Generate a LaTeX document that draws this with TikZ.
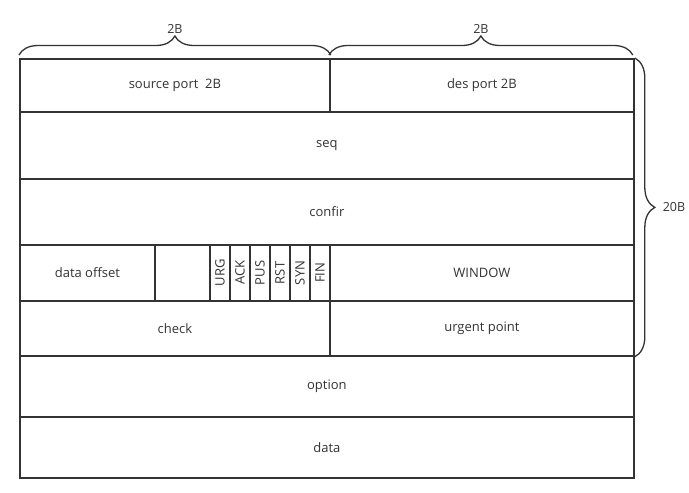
\documentclass[tikz,border=0pt]{standalone}
\usepackage{fontspec}
\setmainfont{Open Sans}
\usepackage{graphicx}
\usetikzlibrary{decorations.pathreplacing}
\definecolor{linegray}{HTML}{333333}

\begin{document}
\begin{tikzpicture}[x=1pt,y=-1pt,
    cell/.style={draw=linegray, line width=1.8pt, anchor=north west, inner sep=0pt,
        text=linegray, font=\fontsize{13}{15}\selectfont},
    bracket/.style={draw=linegray, line width=1.3pt, decorate,
        decoration={brace, amplitude=#1}},
    lbl/.style={text=linegray, font=\fontsize{12.5}{14}\selectfont}]
    \useasboundingbox (0,0) rectangle (689,493);
    % rows
    \node[cell, minimum width=310pt, minimum height=53pt] (src) at (19,58) {source port~~2B};
    \node[cell, minimum width=304pt, minimum height=53pt] (dst) at (329,58) {des port 2B};
    \node[cell, minimum width=614pt, minimum height=67pt] (seq) at (19,111) {seq};
    \node[cell, minimum width=614pt, minimum height=66pt] (confir) at (19,178) {confir};
    \node[cell, minimum width=135pt, minimum height=56pt] (off) at (19,244) {data offset};
    \node[cell, minimum width=55pt, minimum height=56pt] (rsv) at (154,244) {};
    \foreach \f [count=\i from 0] in {URG,ACK,PUS,RST,SYN,FIN}
        \node[cell, minimum width=20pt, minimum height=56pt] (flag\i) at (209+20*\i,244)
            {\rotatebox{90}{\f}};
    \node[cell, minimum width=304pt, minimum height=56pt] (win) at (329,244) {WINDOW};
    \node[cell, minimum width=310pt, minimum height=55pt] (chk) at (19,300) {check};
    \node[cell, minimum width=304pt, minimum height=55pt] (urg) at (329,300) {urgent point};
    \node[cell, minimum width=614pt, minimum height=61pt] (opt) at (19,355) {option};
    \node[cell, minimum width=614pt, minimum height=61pt] (data) at (19,416) {data};
    % braces
    \draw[bracket=19pt] ([yshift=3pt]src.north west) -- ([yshift=3pt]src.north east)
        node[lbl, midway, above=18pt] {2B};
    \draw[bracket=19pt] ([yshift=3pt]dst.north west) -- ([xshift=-2pt,yshift=3pt]dst.north east)
        node[lbl, midway, above=18pt] {2B};
    \draw[bracket=20pt] (dst.north east) -- (urg.south east)
        node[lbl, midway, right=24pt] {20B};
\end{tikzpicture}
\end{document}
